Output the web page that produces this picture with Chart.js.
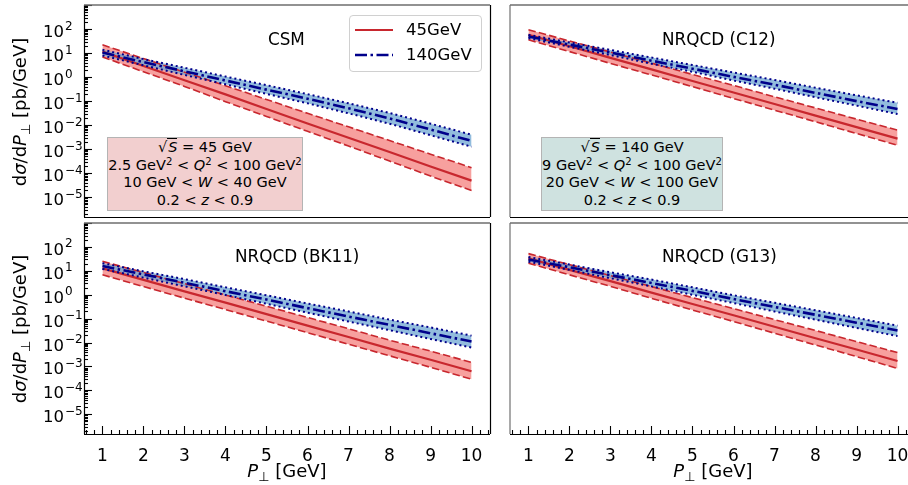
<!DOCTYPE html>
<html><head><meta charset="utf-8">
<script src="https://cdn.jsdelivr.net/npm/chart.js@4.4.0/dist/chart.umd.min.js"></script>
<style>
html,body{margin:0;padding:0;background:#fff;overflow:hidden;width:908px;height:485px;}
#wrap{position:relative;width:908px;height:485px;overflow:hidden;font-family:"DejaVu Sans",sans-serif;color:#000;}
canvas{position:absolute;left:0;top:0;}
.t{position:absolute;white-space:nowrap;font-size:16.8px;line-height:20px;}
.box{position:absolute;box-sizing:border-box;border:1px solid #b4b4b4;text-align:center;font-size:14.5px;line-height:17.5px;padding-top:1px;white-space:nowrap;}
.ov{border-top:1.2px solid #000;font-style:italic;padding-left:1px;}
sup{font-size:70%;vertical-align:0.5em;line-height:0;}
.sub{font-size:72%;vertical-align:-0.3em;line-height:0;}
.yt{position:absolute;white-space:nowrap;font-size:18px;line-height:20px;transform:translate(-50%,-50%) rotate(-90deg);}
.xt{position:absolute;white-space:nowrap;font-size:18px;line-height:20px;transform:translate(-50%,-50%);}
.leg{position:absolute;left:349px;top:15px;width:133px;height:57px;box-sizing:border-box;border:1px solid #d0d0d0;border-radius:4px;background:rgba(255,255,255,0.8);}
.leg svg{position:absolute;left:5px;}
.leg span{position:absolute;left:56px;font-size:16.5px;line-height:20px;}
</style></head><body>
<div id="wrap">
<canvas id="c0" width="930" height="485"></canvas>
<canvas id="c1" width="930" height="485"></canvas>
<canvas id="c2" width="930" height="485"></canvas>
<canvas id="c3" width="930" height="485"></canvas>

<div class="t" style="left:268px;top:29px;">CSM</div>
<div class="t" style="left:662px;top:29px;">NRQCD (C12)</div>
<div class="t" style="left:235px;top:246px;">NRQCD (BK11)</div>
<div class="t" style="left:662px;top:246px;">NRQCD (G13)</div>

<div class="leg">
  <svg width="40" height="6" style="top:11px"><line x1="0" y1="3" x2="38" y2="3" stroke="#c8272e" stroke-width="2.2"/></svg>
  <span style="top:4px">45GeV</span>
  <svg width="40" height="6" style="top:36px"><line x1="0" y1="3" x2="38" y2="3" stroke="#00008b" stroke-width="2.6" stroke-dasharray="12,3.5,2.5,3.5"/></svg>
  <span style="top:29px">140GeV</span>
</div>

<div class="box" style="left:107px;top:137px;width:196px;height:74px;background:#f2cfcf;">
  <div>√<span class="ov">S</span> = 45 GeV</div>
  <div>2.5 GeV<sup>2</sup> &lt; <i>Q</i><sup>2</sup> &lt; 100 GeV<sup>2</sup></div>
  <div>10 GeV &lt; <i>W</i> &lt; 40 GeV</div>
  <div>0.2 &lt; <i>z</i> &lt; 0.9</div>
</div>
<div class="box" style="left:541px;top:137px;width:182px;height:74px;background:#cfe2e0;">
  <div>√<span class="ov">S</span> = 140 GeV</div>
  <div>9 GeV<sup>2</sup> &lt; <i>Q</i><sup>2</sup> &lt; 100 GeV<sup>2</sup></div>
  <div>20 GeV &lt; <i>W</i> &lt; 100 GeV</div>
  <div>0.2 &lt; <i>z</i> &lt; 0.9</div>
</div>

<div class="yt" style="left:20px;top:112px;">d<i>σ</i>/d<i>P</i><span class="sub">⊥</span> [pb/GeV]</div>
<div class="yt" style="left:20px;top:329px;">d<i>σ</i>/d<i>P</i><span class="sub">⊥</span> [pb/GeV]</div>
<div class="xt" style="left:287px;top:471px;"><i>P</i><span class="sub">⊥</span> [GeV]</div>
<div class="xt" style="left:713px;top:471px;"><i>P</i><span class="sub">⊥</span> [GeV]</div>
</div>

<script>
// ---- data ----
const P = [1, 2, 3, 4, 5, 6, 7, 8, 9, 10];
const xTickValues = [1, 2, 3, 4, 5, 6, 7, 8, 9, 10];
const yTickExponents = [-5, -4, -3, -2, -1, 0, 1, 2];

// CSM
const csm45    = [11.5, 2.9, 0.74, 0.19, 0.047, 0.0117, 3.0e-3, 7.6e-4, 1.9e-4, 4.9e-5];
const csm45Hi  = [22, 5.9, 1.6, 0.44, 0.117, 0.031, 8.5e-3, 2.3e-3, 6.2e-4, 1.7e-4];
const csm45Lo  = [6.9, 1.66, 0.41, 0.095, 0.023, 5.5e-3, 1.35e-3, 3.2e-4, 7.6e-5, 1.9e-5];
const csm140   = [10.5, 4.2, 1.74, 0.72, 0.30, 0.126, 0.050, 0.019, 6.6e-3, 2.2e-3];
const csm140Hi = [13.8, 5.6, 2.45, 1.05, 0.46, 0.195, 0.081, 0.032, 0.0115, 4.0e-3];
const csm140Lo = [7.9, 3.1, 1.23, 0.50, 0.20, 0.081, 0.031, 0.0115, 3.8e-3, 1.26e-3];
// NRQCD (C12)
const c12_45    = [57.5, 19.1, 6.3, 2.09, 0.69, 0.229, 0.076, 0.025, 8.3e-3, 2.75e-3];
const c12_45Hi  = [93, 32, 11.0, 3.8, 1.29, 0.45, 0.151, 0.052, 0.0178, 6.2e-3];
const c12_45Lo  = [35.5, 11.5, 3.7, 1.23, 0.40, 0.129, 0.042, 0.0138, 4.5e-3, 1.45e-3];
const c12_140   = [49, 22.4, 10.5, 4.8, 2.24, 1.02, 0.48, 0.22, 0.100, 0.047];
const c12_140Hi = [57.5, 27.5, 13.5, 6.5, 3.16, 1.55, 0.76, 0.36, 0.174, 0.085];
const c12_140Lo = [41.7, 18.2, 8.3, 3.6, 1.66, 0.72, 0.33, 0.145, 0.065, 0.029];
// NRQCD (BK11)
const bk45    = [12.6, 4.2, 1.38, 0.47, 0.155, 0.051, 0.017, 5.6e-3, 1.9e-3, 6.3e-4];
const bk45Hi  = [25, 8.5, 2.9, 0.98, 0.33, 0.112, 0.038, 0.0126, 4.4e-3, 1.48e-3];
const bk45Lo  = [6.8, 2.2, 0.72, 0.24, 0.079, 0.026, 8.5e-3, 2.8e-3, 9.2e-4, 2.95e-4];
const bk140   = [15.8, 7.1, 3.16, 1.41, 0.63, 0.275, 0.123, 0.055, 0.0245, 0.011];
const bk140Hi = [20.9, 9.5, 4.5, 2.04, 0.95, 0.43, 0.20, 0.091, 0.043, 0.0195];
const bk140Lo = [12.0, 5.2, 2.24, 0.98, 0.42, 0.178, 0.076, 0.033, 0.0141, 6.2e-3];
// NRQCD (G13)
const g13_45    = [33, 11.0, 3.7, 1.23, 0.41, 0.138, 0.046, 0.0151, 5.1e-3, 1.7e-3];
const g13_45Hi  = [52.5, 18.2, 6.3, 2.19, 0.76, 0.263, 0.091, 0.032, 0.011, 3.8e-3];
const g13_45Lo  = [20.9, 6.8, 2.24, 0.71, 0.229, 0.076, 0.0245, 7.9e-3, 2.6e-3, 8.3e-4];
const g13_140   = [30, 14.1, 6.6, 3.1, 1.45, 0.66, 0.31, 0.145, 0.068, 0.032];
const g13_140Hi = [38, 18.2, 8.7, 4.3, 2.04, 0.95, 0.46, 0.224, 0.107, 0.051];
const g13_140Lo = [24, 11.0, 4.9, 2.24, 1.0, 0.45, 0.20, 0.091, 0.041, 0.0186];

// ---- styles ----
const RED = '#c8272e', RED_FILL = 'rgb(247,160,158)';
const NAVY = '#00008b', BLUE_FILL = 'rgba(110,165,210,0.75)';

const pts = arr => arr.map((v, i) => ({x: P[i], y: v}));

function datasets(r, rHi, rLo, b, bHi, bLo) {
  return [
    {data: pts(rLo), borderColor: RED, borderWidth: 1.6, borderDash: [7.5, 3.2], fill: false, order: 6},
    {data: pts(rHi), borderColor: RED, borderWidth: 1.6, borderDash: [7.5, 3.2], fill: {target: 0}, backgroundColor: RED_FILL, order: 5},
    {data: pts(r), borderColor: RED, borderWidth: 2.2, fill: false, order: 4},
    {data: pts(bLo), borderColor: NAVY, borderWidth: 2, borderDash: [2, 3], fill: false, order: 3},
    {data: pts(bHi), borderColor: NAVY, borderWidth: 2, borderDash: [2, 3], fill: {target: 3}, backgroundColor: BLUE_FILL, order: 2},
    {data: pts(b), borderColor: NAVY, borderWidth: 2.6, borderDash: [12, 3.5, 2.5, 3.5], fill: false, order: 1}
  ];
}

const mplAxes = {
  id: 'mplAxes',
  afterDraw(chart, args, o) {
    const {ctx, chartArea: a} = chart;
    const xs = chart.scales.x, ys = chart.scales.y;
    ctx.save();
    ctx.strokeStyle = '#000';
    ctx.lineWidth = 1.1;
    if (o.xTicks) {
      for (let i = 3; i <= 52; i++) {
        const v = i / 5;
        const px = Math.round(xs.getPixelForValue(v)) + 0.5;
        const len = (i % 5 === 0) ? 8 : 4;
        ctx.beginPath(); ctx.moveTo(px, a.bottom); ctx.lineTo(px, a.bottom - len); ctx.stroke();
      }
    }
    for (let e = -7; e <= 3; e++) {
      for (let m = 1; m <= 9; m++) {
        const v = m * Math.pow(10, e);
        if (v < ys.min || v > ys.max) continue;
        const py = Math.round(ys.getPixelForValue(v)) + 0.5;
        const len = m === 1 ? 8 : 4;
        ctx.beginPath();
        if (o.ySide === 'left') { ctx.moveTo(a.left, py); ctx.lineTo(a.left + len, py); }
        else { ctx.moveTo(a.right, py); ctx.lineTo(a.right - len, py); }
        ctx.stroke();
      }
    }
    const line = (x1, y1, x2, y2, col, w) => {
      ctx.strokeStyle = col; ctx.lineWidth = w;
      ctx.beginPath(); ctx.moveTo(x1, y1); ctx.lineTo(x2, y2); ctx.stroke();
    };
    line(a.left + o.lOff, a.top, a.left + o.lOff, a.bottom, o.lCol, 1.2);
    line(a.right + 0.5, a.top, a.right + 0.5, a.bottom, '#000', 1.2);
    line(a.left, a.top, a.right, a.top, '#6e6e6e', 1.6);
    line(a.left, a.bottom + 0.5, a.right, a.bottom + 0.5, '#000', 1.2);
    ctx.fillStyle = '#000';
    if (o.xLabels) {
      ctx.font = '17px "DejaVu Sans"';
      ctx.textAlign = 'center'; ctx.textBaseline = 'alphabetic';
      xTickValues.forEach(v => ctx.fillText(String(v), xs.getPixelForValue(v), 461));
    }
    if (o.yLabels) {
      ctx.textAlign = 'left'; ctx.textBaseline = 'alphabetic';
      yTickExponents.forEach(e => {
        const py = ys.getPixelForValue(Math.pow(10, e));
        ctx.font = '16.5px "DejaVu Sans"';
        ctx.fillText('10', 43, py + 8);
        const w = ctx.measureText('10').width;
        ctx.font = '12px "DejaVu Sans"';
        ctx.fillText(e < 0 ? '\u2212' + (-e) : String(e), 43 + w + 1, py + 0.5);
      });
    }
    ctx.restore();
  }
};

function makeChart(id, ds, area, axOpts) {
  new Chart(document.getElementById(id), {
    type: 'line',
    data: {datasets: ds},
    options: {
      responsive: false, animation: false, devicePixelRatio: 1,
      layout: {padding: {left: area[0], right: 930 - area[1], top: area[2], bottom: 485 - area[3]}},
      elements: {point: {radius: 0}, line: {tension: 0}},
      scales: {
        x: {type: 'linear', min: 0.55, max: 10.45, display: false},
        y: {type: 'logarithmic', min: 1.5e-6, max: 1000, display: false, bounds: 'data'}
      },
      plugins: {
        legend: {display: false}, tooltip: {enabled: false},
        filler: {drawTime: 'beforeDatasetsDraw'},
        mplAxes: axOpts
      }
    },
    plugins: [mplAxes]
  });
}

makeChart('c0', datasets(csm45, csm45Hi, csm45Lo, csm140, csm140Hi, csm140Lo), [84, 490, 5, 217],
  {xTicks: false, xLabels: false, ySide: 'left', yLabels: true, lOff: 0.5, lCol: '#000'});
makeChart('c1', datasets(c12_45, c12_45Hi, c12_45Lo, c12_140, c12_140Hi, c12_140Lo), [510, 916, 5, 217],
  {xTicks: false, xLabels: false, ySide: 'right', yLabels: false, lOff: 0, lCol: '#707070'});
makeChart('c2', datasets(bk45, bk45Hi, bk45Lo, bk140, bk140Hi, bk140Lo), [84, 490, 223, 434],
  {xTicks: true, xLabels: true, ySide: 'left', yLabels: true, lOff: 0.5, lCol: '#000'});
makeChart('c3', datasets(g13_45, g13_45Hi, g13_45Lo, g13_140, g13_140Hi, g13_140Lo), [510, 916, 223, 434],
  {xTicks: true, xLabels: true, ySide: 'right', yLabels: false, lOff: 0, lCol: '#707070'});
</script>
</body></html>
